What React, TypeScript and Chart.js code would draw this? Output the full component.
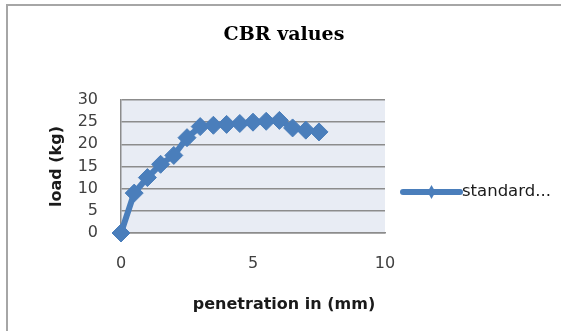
import { useEffect, useRef } from "react";
import { Chart, registerables } from "chart.js";

Chart.register(...registerables);

const chartTitle = "CBR values";
const xTitle = "penetration in (mm)";
const yTitle = "load (kg)";
const seriesLabel = "standard...";
const penetration = [0, 0.5, 1, 1.5, 2, 2.5, 3, 3.5, 4, 4.5, 5, 5.5, 6, 6.5, 7, 7.5];
const load = [0, 9, 12.5, 15.5, 17.5, 21.5, 24, 24.3, 24.5, 24.7, 25, 25.2, 25.4, 23.7, 23.2, 22.8];
const xTicks = [0, 5, 10];
const yTicks = [0, 5, 10, 15, 20, 25, 30];

const BLUE = "#4a7ebb";
const GRID = "#8c8c8c";

const decor = {
  id: "decor",
  beforeDraw(chart: any) {
    const { ctx, chartArea: a, width, height } = chart;
    ctx.save();
    ctx.fillStyle = "#ffffff";
    ctx.fillRect(0, 0, width, height);
    ctx.strokeStyle = "#a6a6a6";
    ctx.lineWidth = 2;
    ctx.beginPath();
    ctx.moveTo(7, height + 2);
    ctx.lineTo(7, 5);
    ctx.lineTo(width + 2, 5);
    ctx.stroke();
    ctx.fillStyle = "#e8ecf4";
    ctx.fillRect(a.left, a.top, a.right - a.left, a.bottom - a.top);
    ctx.restore();
  },
  afterDraw(chart: any) {
    const { ctx, chartArea: a } = chart;
    const x0 = a.right + 18;
    const x1 = a.right + 75;
    const y = a.top + 92;
    ctx.save();
    ctx.strokeStyle = BLUE;
    ctx.lineWidth = 6;
    ctx.lineCap = "round";
    ctx.beginPath();
    ctx.moveTo(x0, y);
    ctx.lineTo(x1, y);
    ctx.stroke();
    const mx = (x0 + x1) / 2;
    ctx.fillStyle = BLUE;
    ctx.beginPath();
    ctx.moveTo(mx, y - 7);
    ctx.lineTo(mx + 4, y);
    ctx.lineTo(mx, y + 7);
    ctx.lineTo(mx - 4, y);
    ctx.closePath();
    ctx.fill();
    ctx.fillStyle = "#1a1a1a";
    ctx.font = '16.5px "DejaVu Sans"';
    ctx.textBaseline = "middle";
    ctx.textAlign = "left";
    ctx.fillText(chart.data.datasets[0].label, x1 + 2, y);
    ctx.restore();
  },
};

export default function App() {
  const ref = useRef<HTMLCanvasElement | null>(null);
  useEffect(() => {
    if (!ref.current) return;
    const chart = new Chart(ref.current, {
      type: "line",
      data: {
        datasets: [
          {
            label: seriesLabel,
            data: penetration.map((x, i) => ({ x, y: load[i] })),
            borderColor: BLUE,
            backgroundColor: BLUE,
            borderWidth: 6,
            pointStyle: "rectRot",
            pointRadius: 9,
            pointBorderWidth: 1,
            pointBackgroundColor: BLUE,
            pointBorderColor: BLUE,
            tension: 0,
            clip: false,
          } as any,
        ],
      },
      options: {
        animation: false,
        responsive: false,
        layout: { padding: { left: 7, top: 0, right: 0, bottom: 0 } },
        plugins: {
          legend: { display: false },
          tooltip: { enabled: false },
          title: {
            display: true,
            text: chartTitle,
            color: "#000",
            font: { family: '"DejaVu Serif"', size: 19, weight: "bold" },
            padding: { top: 23.6, bottom: 53.6 },
          },
          subtitle: {
            display: true,
            position: "bottom",
            text: xTitle,
            color: "#1a1a1a",
            font: { family: '"DejaVu Sans"', size: 16, weight: "bold" },
            padding: { top: 4, bottom: 16.4 },
          },
        },
        scales: {
          x: {
            type: "linear",
            min: 0,
            max: 10,
            afterBuildTicks: (s: any) => {
              s.ticks = xTicks.map((v) => ({ value: v }));
            },
            afterFit: (s: any) => {
              s.height = 58.4;
            },
            grid: { display: false, drawTicks: false },
            border: { display: true, color: GRID, width: 1.5 },
            ticks: {
              autoSkip: false,
              padding: 21,
              color: "#404040",
              font: { family: '"DejaVu Sans"', size: 16 },
            },
          },
          y: {
            type: "linear",
            min: 0,
            max: 30,
            afterBuildTicks: (s: any) => {
              s.ticks = yTicks.map((v) => ({ value: v }));
            },
            afterFit: (s: any) => {
              s.width = 114;
            },
            grid: { color: GRID, lineWidth: 1.5, drawTicks: false },
            border: { display: true, color: GRID, width: 1.5 },
            ticks: {
              autoSkip: false,
              padding: 23,
              color: "#404040",
              font: { family: '"DejaVu Sans"', size: 16 },
            },
            title: {
              display: true,
              text: yTitle,
              color: "#1a1a1a",
              font: { family: '"DejaVu Sans"', size: 16, weight: "bold" },
              padding: { top: 40, bottom: 0 },
            },
          },
          yRight: {
            type: "linear",
            position: "right",
            min: 0,
            max: 30,
            afterFit: (s: any) => {
              s.width = 176;
            },
            grid: { display: false, drawTicks: false },
            border: { display: false },
            ticks: { display: false },
          },
        },
      } as any,
      plugins: [decor],
    });
    return () => chart.destroy();
  }, []);
  return (
    <div style={{ position: "fixed", left: 0, top: 0, width: 561, height: 331 }}>
      <canvas ref={ref} width={561} height={331} style={{ display: "block" }} />
    </div>
  );
}
